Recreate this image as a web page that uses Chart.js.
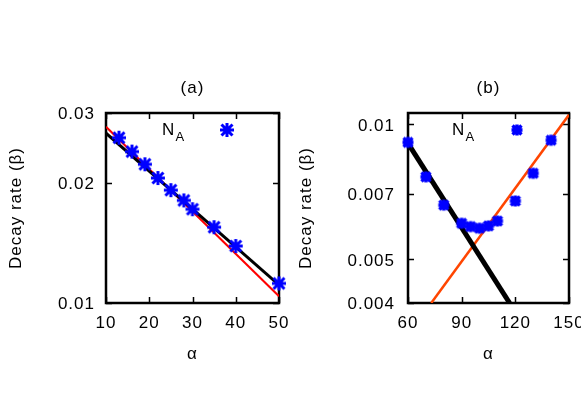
<!DOCTYPE html>
<html><head><meta charset="utf-8">
<script src="https://cdn.jsdelivr.net/npm/chart.js@4.4.1/dist/chart.umd.min.js"></script>
<style>
html,body{margin:0;padding:0;background:#fff;overflow:hidden;width:581px;height:407px;position:relative;}
canvas{position:absolute;top:0;}
#ca{left:0;} #cb{left:290px;}
</style></head><body>
<canvas id="ca" width="290" height="407"></canvas>
<canvas id="cb" width="320" height="407"></canvas>
<script>
// ---------- data: panel (a) ----------
const alphaA = [13, 16, 19, 22, 25, 28, 30, 35, 40, 50];
const betaA  = [0.0260, 0.0240, 0.0223, 0.0206, 0.0192, 0.0181, 0.0172, 0.0155, 0.0139, 0.0112];
const fitBlackAx = [10, 50];
const fitBlackAy = [0.0267, 0.0111];
const fitRedAx = [10, 50];
const fitRedAy = [0.0277, 0.0104];
const xTicksA = [10, 20, 30, 40, 50];
const xTickLabelsA = ['10', '20', '30', '40', '50'];
const yTicksA = [0.01, 0.02, 0.03];
const yTickLabelsA = ['0.01', '0.02', '0.03'];

// ---------- data: panel (b) ----------
const alphaB = [60, 70, 80, 90, 95, 100, 105, 110, 120, 130, 140];
const betaB  = [0.00912, 0.00764, 0.00661, 0.00602, 0.00592, 0.00587, 0.00594, 0.00609, 0.00675, 0.00778, 0.00922];
const fitBlackBx = [60, 116.8];
const fitBlackBy = [0.00907, 0.004];
const fitOrangeBx = [73, 150];
const fitOrangeBy = [0.004, 0.0105];
const xTicksB = [60, 90, 120, 150];
const xTickLabelsB = ['60', '90', '120', '150'];
const yTicksB = [0.004, 0.005, 0.007, 0.01];
const yTickLabelsB = ['0.004', '0.005', '0.007', '0.01'];

const titles = ['(a)', '(b)'];
const xTitle = 'α';
const yTitle = 'Decay rate (β)';
const legendMain = 'N';
const legendSub = 'A';

// ---------- helpers ----------
const FAMILY = "'Liberation Sans', Arial, sans-serif";
const FS = 17;
Chart.defaults.font.family = FAMILY;
Chart.defaults.font.size = FS;
Chart.defaults.color = '#000';

function pts(xs, ys) { return xs.map((x, i) => ({x: x, y: ys[i]})); }

function makeStar(size, armP, armX, lw) {
  const c = document.createElement('canvas');
  c.width = size; c.height = size;
  const g = c.getContext('2d');
  const m = size / 2;
  g.strokeStyle = '#0000ff';
  g.lineWidth = lw;
  g.beginPath();
  g.moveTo(m - armP, m); g.lineTo(m + armP, m);
  g.moveTo(m, m - armP); g.lineTo(m, m + armP);
  g.moveTo(m - armX, m - armX); g.lineTo(m + armX, m + armX);
  g.moveTo(m + armX, m - armX); g.lineTo(m - armX, m + armX);
  g.stroke();
  return c;
}
const starA = makeStar(18, 7, 5.5, 3);
const starB = makeStar(14, 5.5, 4.5, 3.4);

const LS = '1px';
const framePlugin = {
  id: 'frame',
  beforeUpdate(chart) { chart.ctx.letterSpacing = LS; },
  beforeDraw(chart) { chart.ctx.letterSpacing = LS; },
  beforeDatasetsDraw(chart) {
    const {ctx, chartArea: a, scales} = chart;
    ctx.save();
    ctx.strokeStyle = '#000';
    ctx.lineWidth = 1.5;
    const L = 6;
    ctx.beginPath();
    scales.x.ticks.forEach(t => {
      const p = Math.round(scales.x.getPixelForValue(t.value)) + 0.5;
      ctx.moveTo(p, a.bottom); ctx.lineTo(p, a.bottom - L);
      ctx.moveTo(p, a.top); ctx.lineTo(p, a.top + L);
    });
    scales.y.ticks.forEach(t => {
      const p = Math.round(scales.y.getPixelForValue(t.value)) + 0.5;
      ctx.moveTo(a.left, p); ctx.lineTo(a.left + L, p);
      ctx.moveTo(a.right, p); ctx.lineTo(a.right - L, p);
    });
    ctx.stroke();
    ctx.lineWidth = 2.5;
    ctx.strokeRect(a.left, a.top, a.right - a.left, a.bottom - a.top);
    ctx.restore();
  },
  afterDatasetsDraw(chart, args, opts) {
    const {ctx, chartArea: a} = chart;
    const mx = a.right - 52, my = a.top + 16.5;
    ctx.save();
    ctx.letterSpacing = LS;
    ctx.fillStyle = '#000';
    ctx.textAlign = 'left';
    ctx.textBaseline = 'alphabetic';
    ctx.font = FS + "px " + FAMILY;
    const nx = mx - 65;
    ctx.fillText(legendMain, nx, a.top + 22);
    ctx.font = "13px " + FAMILY;
    ctx.fillText(legendSub, nx + 13.5, a.top + 27.5);
    const img = opts.marker;
    ctx.drawImage(img, Math.round(mx - img.width / 2), Math.round(my - img.height / 2));
    ctx.restore();
  }
};

function makeChart(id, cfg) {
  return new Chart(document.getElementById(id), {
    type: 'scatter',
    data: {
      datasets: [
        {
          data: pts(cfg.ax, cfg.by),
          pointStyle: cfg.marker,
          pointRadius: 6,
          showLine: false,
          clip: false,
          order: 0
        },
        {
          data: pts(cfg.f1x, cfg.f1y),
          showLine: true,
          pointRadius: 0,
          borderColor: cfg.f1c,
          borderWidth: cfg.f1w,
          order: 1
        },
        {
          data: pts(cfg.f2x, cfg.f2y),
          showLine: true,
          pointRadius: 0,
          borderColor: cfg.f2c,
          borderWidth: cfg.f2w,
          order: 2
        }
      ]
    },
    options: {
      responsive: false,
      animation: false,
      devicePixelRatio: 1,
      layout: {padding: {left: 0, right: cfg.padRight, top: 0, bottom: 0}},
      plugins: {
        legend: {display: false},
        tooltip: {enabled: false},
        title: {
          display: true,
          text: cfg.title,
          fullSize: false,
          font: {size: FS, weight: 'normal'},
          color: '#000',
          padding: {top: 77.8, bottom: 14.8}
        },
        frame: {marker: cfg.marker}
      },
      scales: {
        x: {
          type: 'linear',
          min: cfg.xmin, max: cfg.xmax,
          grid: {display: false, drawTicks: false},
          border: {display: false},
          afterBuildTicks: s => { s.ticks = cfg.xTicks.map(v => ({value: v})); },
          afterFit: s => { s.height = 104; s.paddingLeft = 0; s.paddingRight = 0; },
          ticks: {
            autoSkip: false, maxRotation: 0, padding: 10,
            callback: (v, i) => cfg.xLabels[i]
          },
          title: {display: true, text: xTitle, font: {size: FS}, padding: {top: 0, bottom: 42.3}}
        },
        y: {
          type: 'logarithmic',
          min: cfg.ymin, max: cfg.ymax,
          grid: {display: false, drawTicks: false},
          border: {display: false},
          afterBuildTicks: s => { s.ticks = cfg.yTicks.map(v => ({value: v})); },
          afterFit: s => { s.width = cfg.yWidth; s.paddingTop = 0; s.paddingBottom = 0; },
          ticks: {
            autoSkip: false, padding: cfg.yPad, labelOffset: 1.5,
            callback: (v, i) => cfg.yLabels[i]
          },
          title: {display: true, text: yTitle, font: {size: FS}, padding: {top: 6, bottom: 0}}
        }
      }
    },
    plugins: [framePlugin]
  });
}

makeChart('ca', {
  ax: alphaA, by: betaA, marker: starA,
  f1x: fitBlackAx, f1y: fitBlackAy, f1c: '#000000', f1w: 3,
  f2x: fitRedAx, f2y: fitRedAy, f2c: '#ff0000', f2w: 2,
  title: titles[0], xmin: 10, xmax: 50, ymin: 0.01, ymax: 0.03,
  xTicks: xTicksA, xLabels: xTickLabelsA, yTicks: yTicksA, yLabels: yTickLabelsA,
  yWidth: 106, yPad: 11, padRight: 11
});
makeChart('cb', {
  ax: alphaB, by: betaB, marker: starB,
  f1x: fitBlackBx, f1y: fitBlackBy, f1c: '#000000', f1w: 5,
  f2x: fitOrangeBx, f2y: fitOrangeBy, f2c: '#ff4500', f2w: 2.5,
  title: titles[1], xmin: 60, xmax: 150, ymin: 0.004, ymax: 0.0106,
  xTicks: xTicksB, xLabels: xTickLabelsB, yTicks: yTicksB, yLabels: yTickLabelsB,
  yWidth: 118, yPad: 13, padRight: 41
});
</script>
</body></html>
